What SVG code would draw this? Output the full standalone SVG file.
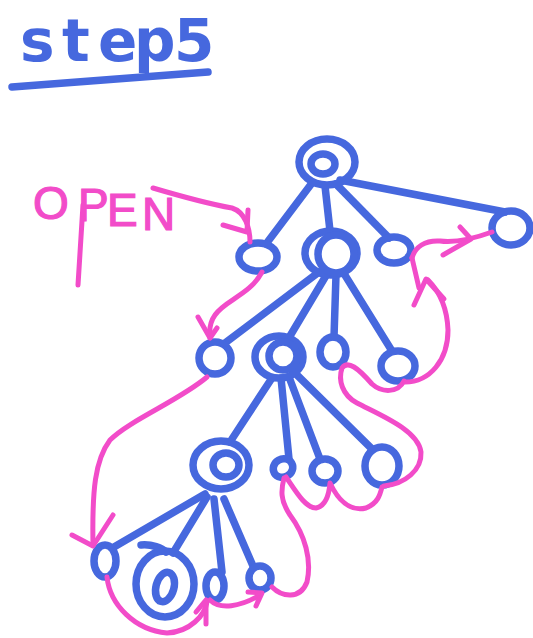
<svg xmlns="http://www.w3.org/2000/svg" width="533" height="638" viewBox="0 0 533 638">
  <style>
    .node { fill: none; stroke: #4668de; stroke-width: 7.5; }
    .edge { fill: none; stroke: #4668de; stroke-width: 7.5; stroke-linecap: round; }
    .trail { fill: none; stroke: #f24cc9; stroke-width: 5; stroke-linecap: round; stroke-linejoin: round; }
    .title { font-family: "DejaVu Sans", sans-serif; font-weight: bold; font-size: 58px; fill: #4668de; }
    .label { font-family: "Liberation Sans", Arial, sans-serif; font-size: 46px; fill: #f24cc9; stroke: #f24cc9; stroke-width: 1.2; }
  </style>
  <rect width="533" height="638" fill="#ffffff"/>

  <!-- heading -->
  <g id="title">
    <text class="title" x="20 62 98 134 174" y="61">step5</text>
    <path class="edge" d="M12 87 L208 72" stroke-width="8"/>
  </g>

  <!-- OPEN label, with the long pen stroke under the P -->
  <g id="open-label">
    <text class="label" x="33 78 107 142" y="219 221 226 230">OPEN</text>
    <path class="trail" d="M83 205 L78 285"/>
  </g>

  <!-- tree connectors -->
  <g id="edges">
    <path class="edge" d="M340 180 L505 212"/>
    <path class="edge" d="M312 183 L266 244"/>
    <path class="edge" d="M325 186 L330 231"/>
    <path class="edge" d="M336 184 L389 238"/>
    <path class="edge" d="M319 272 L225 343"/>
    <path class="edge" d="M327 274 L290 336"/>
    <path class="edge" d="M336 275 L334 337"/>
    <path class="edge" d="M343 272 L392 351"/>
    <path class="edge" d="M272 378 L230 442"/>
    <path class="edge" d="M281 378 L289 459"/>
    <path class="edge" d="M289 377 L320 459"/>
    <path class="edge" d="M297 375 L372 449"/>
    <path class="edge" d="M205 494 L114 547"/>
    <path class="edge" d="M207 497 L173 553"/>
    <path class="edge" d="M214 499 L222 572"/>
    <path class="edge" d="M224 499 L253 566"/>
  </g>

  <!-- nodes -->
  <g id="root">
    <ellipse class="node" cx="327" cy="162" rx="28" ry="23"/>
    <ellipse class="node" cx="323" cy="164" rx="12" ry="10"/>
  </g>
  <g id="n-right"><ellipse class="node" cx="511" cy="228" rx="19" ry="17"/></g>
  <g id="n-a"><ellipse class="node" cx="258" cy="257" rx="19" ry="14"/></g>
  <g id="n-b">
    <ellipse class="node" cx="331" cy="253" rx="26" ry="22"/>
    <ellipse class="node" cx="336" cy="254" rx="18" ry="19"/>
  </g>
  <g id="n-c"><ellipse class="node" cx="394" cy="250" rx="17" ry="13"/></g>
  <g id="n-d"><ellipse class="node" cx="215" cy="358" rx="16" ry="16"/></g>
  <g id="n-e">
    <ellipse class="node" cx="279" cy="357" rx="24" ry="21"/>
    <ellipse class="node" cx="283" cy="356" rx="14" ry="14"/>
  </g>
  <g id="n-f"><ellipse class="node" cx="333" cy="352" rx="13" ry="15"/></g>
  <g id="n-g"><ellipse class="node" cx="398" cy="366" rx="17" ry="15"/></g>
  <g id="n-h">
    <ellipse class="node" cx="221" cy="465" rx="28" ry="24"/>
    <ellipse class="node" cx="226" cy="465" rx="13" ry="12"/>
  </g>
  <g id="n-i"><ellipse class="node" cx="283" cy="468" rx="10" ry="9" transform="rotate(-30 283 468)"/></g>
  <g id="n-j"><ellipse class="node" cx="325" cy="471" rx="13" ry="12"/></g>
  <g id="n-k"><ellipse class="node" cx="382" cy="466" rx="17" ry="19"/></g>
  <g id="n-l"><ellipse class="node" cx="105" cy="561" rx="11" ry="16"/></g>
  <g id="n-m">
    <ellipse class="node" cx="165" cy="584" rx="29" ry="33"/>
    <ellipse class="node" cx="165" cy="587" rx="9" ry="15" transform="rotate(15 165 587)"/>
    <path class="edge" d="M141 545 C152 544 162 548 166 552"/>
  </g>
  <g id="n-n"><ellipse class="node" cx="215" cy="586" rx="9" ry="14"/></g>
  <g id="n-o"><ellipse class="node" cx="260" cy="578" rx="11" ry="12"/></g>

  <!-- traversal trail -->
  <g id="trail">
    <path class="trail" d="M153 188 C180 196 215 205 232 208 C245 212 250 228 250 242"/>
    <path class="trail" d="M223 225 L247 232 L248 210"/>
    <path class="trail" d="M262 272 C250 295 225 300 215 315 C210 322 209 330 210 338"/>
    <path class="trail" d="M198 317 L210 338 L217 328"/>
    <path class="trail" d="M207 377 C180 400 130 420 110 440 C95 460 92 490 93 545"/>
    <path class="trail" d="M72 535 L93 546 L113 515"/>
    <path class="trail" d="M107 577 C110 605 135 630 167 633 C190 632 205 615 207 602"/>
    <path class="trail" d="M196 612 L206 600 L206 624"/>
    <path class="trail" d="M210 600 C220 610 240 607 260 595"/>
    <path class="trail" d="M248 592 L262 593 L256 606"/>
    <path class="trail" d="M272 587 C282 597 300 600 307 582 C312 560 305 535 290 515 C280 500 281 490 284 478"/>
    <path class="trail" d="M286 477 C295 490 305 508 316 508 C326 506 329 495 330 483 C338 500 350 512 366 508 C378 503 380 495 382 487"/>
    <path class="trail" d="M384 486 C405 484 422 470 421 452 C418 430 380 415 357 403 C342 395 338 380 342 368 C348 360 358 368 372 384 C382 393 398 393 404 381"/>
    <path class="trail" d="M405 382 C430 382 448 360 448 330 C447 305 438 290 428 280"/>
    <path class="trail" d="M414 305 L426 279 L444 299"/>
    <path class="trail" d="M412 258 L419 288"/>
    <path class="trail" d="M412 258 C415 247 425 240 440 241 C455 243 470 240 492 232"/>
    <path class="trail" d="M460 227 L471 239 L443 255"/>
  </g>
</svg>
